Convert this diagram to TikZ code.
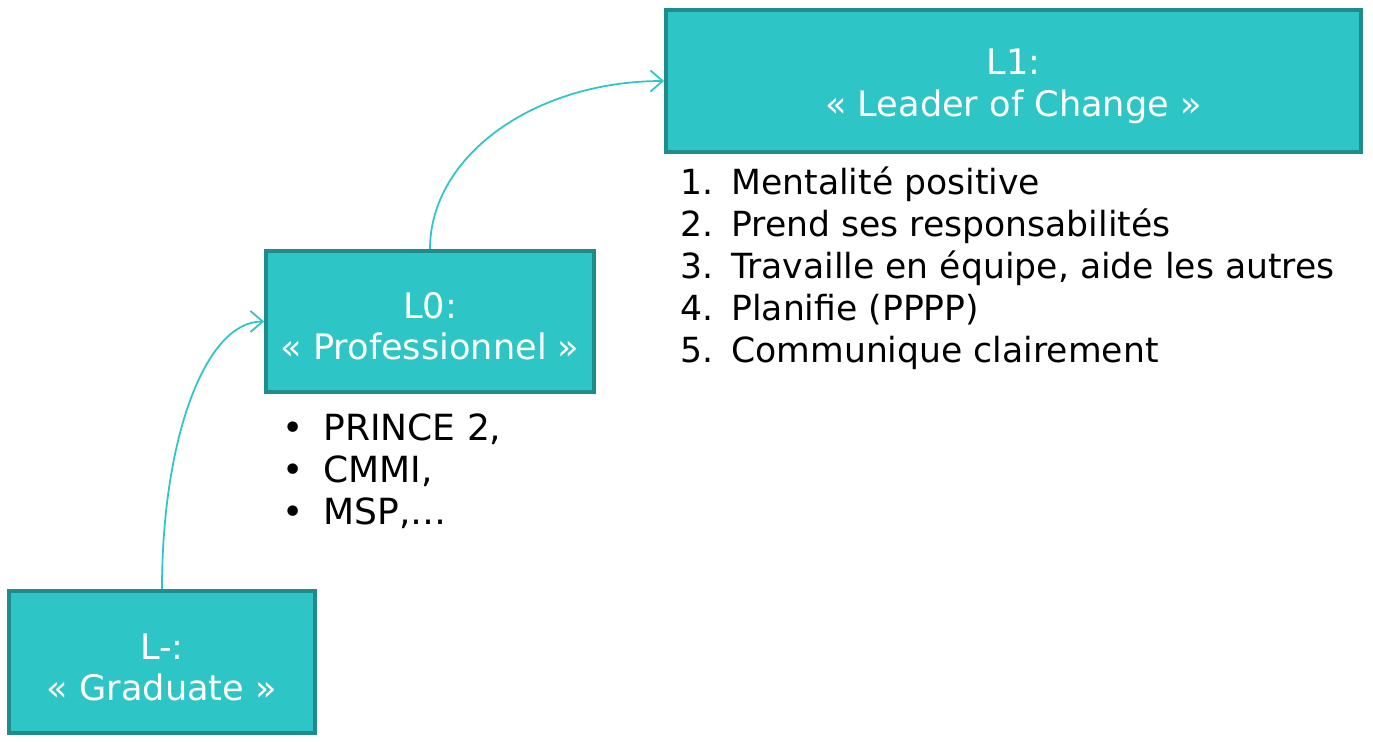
\documentclass[tikz,border=0pt]{standalone}
\usepackage{fontspec}
\setmainfont{DejaVu Sans}
\usetikzlibrary{arrows.meta}

\definecolor{tealfill}{HTML}{2EC5C6}
\definecolor{tealedge}{HTML}{1E8C8A}

\newcommand{\lvlstrut}{\rule{0pt}{20.5pt}}

\tikzset{
  levelbox/.style={rectangle, draw=tealedge, fill=tealfill, line width=2.2pt,
    text=white, align=center, font=\fontsize{20}{23.5}\selectfont},
  growth/.style={draw=tealfill, line width=1pt, -{Straight Barb[length=7pt,width=12pt]}},
  itemlist/.style={anchor=north west, align=left, inner sep=0pt}
}

\begin{document}
\begin{tikzpicture}[x=0.02cm, y=-0.02cm]
  \useasboundingbox (0, 0) rectangle (1373, 741);
  % Nodes
  \node (graduate) [levelbox, minimum width=306*0.02cm, minimum height=142*0.02cm] at (162, 662) {\lvlstrut L-:\\« Graduate »};
  \node (professionnel) [levelbox, minimum width=328*0.02cm, minimum height=141*0.02cm] at (430, 321.5) {\lvlstrut L0:\\« Professionnel »};
  \node (leader) [levelbox, minimum width=695*0.02cm, minimum height=142*0.02cm] at (1013.5, 81) {\lvlstrut L1:\\« Leader of Change »};
  \node (methods) [itemlist, font=\fontsize{20.5}{24}\selectfont] at (282, 413) {\makebox[0.82cm][l]{•}PRINCE 2,\\\makebox[0.82cm][l]{•}CMMI,\\\makebox[0.82cm][l]{•}MSP,…};
  \node (qualities) [itemlist, font=\fontsize{19.7}{24}\selectfont] at (680, 166) {\makebox[1.02cm][l]{1.}Mentalité positive\\\makebox[1.02cm][l]{2.}Prend ses responsabilités\\\makebox[1.02cm][l]{3.}Travaille en équipe, aide les autres\\\makebox[1.02cm][l]{4.}Planifie (PPPP)\\\makebox[1.02cm][l]{5.}Communique clairement};
  % Arrows
  \draw[growth] (graduate.north) .. controls +(0, -150) and +(-59, 0) .. (professionnel.west);
  \draw[growth] (professionnel.north) .. controls +(0, -93) and +(-130, 0) .. (leader.west);
\end{tikzpicture}
\end{document}
